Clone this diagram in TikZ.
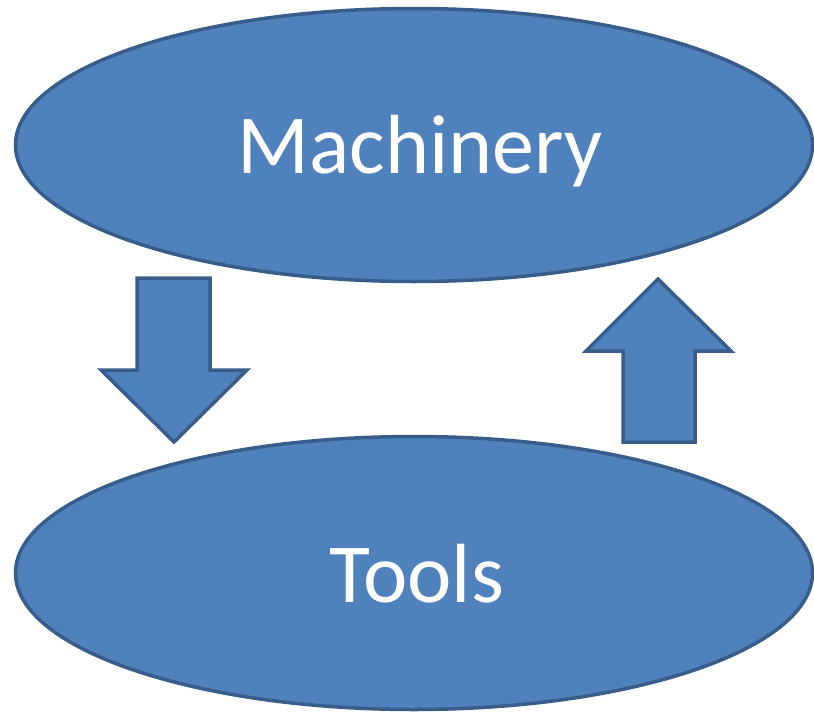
\documentclass[tikz,border=0pt]{standalone}
\usepackage{fontspec}
\setmainfont{Carlito}
\usetikzlibrary{shapes.geometric}
\definecolor{fillblue}{HTML}{4F81BD}
\definecolor{edgeblue}{HTML}{385D8A}
\begin{document}
\begin{tikzpicture}[x=1pt,y=-1pt,
  blob/.style={ellipse, draw=edgeblue, fill=fillblue, line width=3.5pt, minimum width=797pt, minimum height=273pt, inner sep=0pt},
  blockarrow/.style={draw=edgeblue, fill=fillblue, line width=3.5pt, line join=miter},
  label/.style={text=white, font=\fontsize{84}{100}\selectfont, anchor=base, inner sep=0pt}]
\useasboundingbox (0,0) rectangle (814,712);
\node[blob] (mach) at (414,145) {};
\node[blob] (tools) at (414,573) {};
\node[label] (machtxt) at (420,173) {Machinery};
\node[label] (toolstxt) at (417,602) {Tools};
% down arrow
\draw[blockarrow] (137,278) -- (210,278) -- (210,370) -- (247,370) -- (174,442) -- (101,370) -- (137,370) -- cycle;
% up arrow
\draw[blockarrow] (623,442) -- (695,442) -- (695,351) -- (731,351) -- (658,279) -- (586,351) -- (623,351) -- cycle;
\end{tikzpicture}
\end{document}
